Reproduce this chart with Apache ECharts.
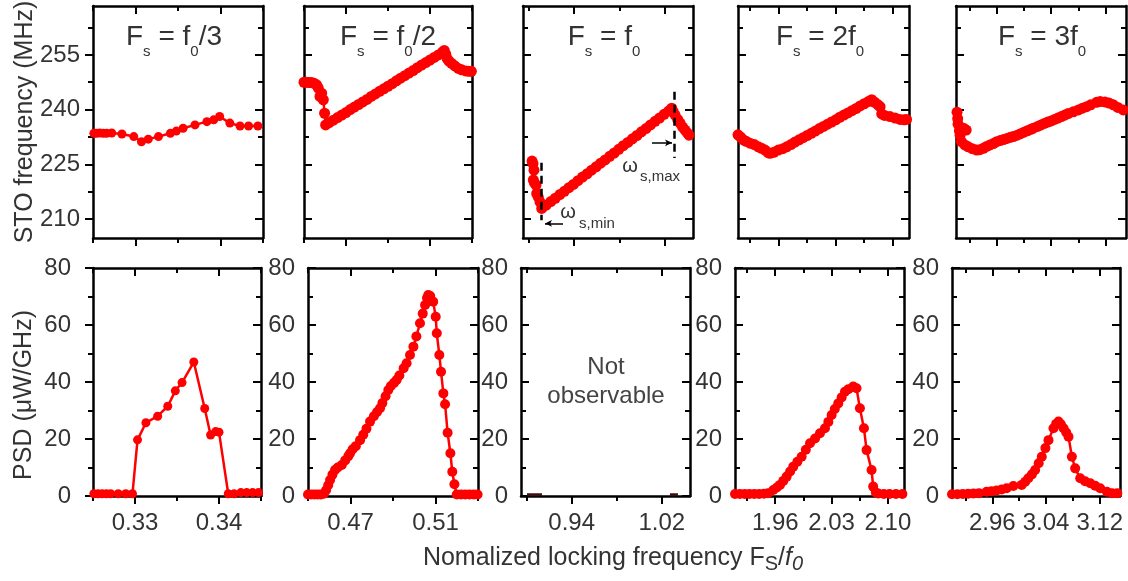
<!DOCTYPE html>
<html><head><meta charset="utf-8">
<script src="https://cdn.jsdelivr.net/npm/echarts@6.0.0/dist/echarts.min.js"></script>
<style>html,body{margin:0;padding:0;background:#fff;}#c{width:1128px;height:581px;}</style>
</head><body><div id="c"></div>
<script>
// ---------- DATA ----------
// Column x ranges (normalized locking frequency)
const colRanges = [[0.325,0.345],[0.45,0.53],[0.895,1.045],[1.91,2.12],[2.9,3.15]];
const xMajor = [[0.33,0.34],[0.47,0.51],[0.94,1.02],[1.96,2.03,2.10],[2.96,3.04,3.12]];
const xMinor = [[0.325,0.335,0.345],[0.45,0.49,0.53],[0.90,0.98],[1.925,1.995,2.065],[2.92,3.00,3.08]];
const freqRange = [204.8,268.4];
const freqMajor = [210,225,240,255];
const freqMinor = [217.5,232.5,247.5,262.5];
const psdRange = [0,80];
const psdMajor = [0,20,40,60,80];
const psdMinor = [10,30,50,70];
const titleSuffix = ['{a| = f}{s|0}{a|/3}','{a| = f}{s|0}{a|/2}','{a| = f}{s|0}','{a| = 2f}{s|0}','{a| = 3f}{s|0}'];

// STO frequency (MHz)
const p1TopX = [0.3251,0.3254,0.3258,0.3262,0.3266,0.3272,0.3284,0.3298,0.3307,0.3315,0.3327,0.3341,0.3348,0.3356,0.3370,0.3384,0.3392,0.3399,0.3411,0.3423,0.3433,0.3444];
const p1TopY = [233.5,233.5,233.6,233.5,233.5,233.6,233.3,232.6,231.2,231.9,232.6,233.5,234.1,234.9,235.8,236.7,237.2,238.1,236.3,235.5,235.5,235.5];

const p2TopX = [0.4500,0.4512,0.4524,0.4536,0.4548,0.4560,0.4568,0.4576,0.4584,0.4592,0.4598,0.4603,
  0.462,0.464,0.466,0.468,0.470,0.472,0.474,0.476,0.478,0.480,0.482,0.484,0.486,0.488,0.490,0.492,0.494,0.496,0.498,0.500,0.502,0.504,0.506,0.508,0.510,0.512,0.514,0.516,
  0.5168,0.5175,0.5182,0.5190,0.5203,0.5218,0.5235,0.5251,0.5270,0.5285,0.5297];
const p2TopY = [247.5,247.5,247.4,247.4,247.2,246.8,245.9,243.6,244.5,242.7,239.0,235.8,
  236.4,237.1,237.8,238.5,239.2,240.0,240.7,241.4,242.1,242.8,243.6,244.3,245.0,245.7,246.4,247.1,247.9,248.6,249.3,250.0,250.7,251.5,252.2,252.9,253.6,254.3,255.0,255.8,
  256.2,255.2,254.0,253.3,252.7,252.0,251.3,250.9,250.6,250.5,250.5];

const p3TopX = [0.9030,0.9038,0.9047,0.9041,0.9050,0.9065,0.9071,0.9085,0.9100,0.9115,
  0.9155,0.9195,0.9235,0.9275,0.9315,0.9355,0.9395,0.9435,0.9475,0.9515,0.9555,0.9595,0.9635,0.9675,0.9715,0.9755,0.9795,0.9835,0.9875,0.9915,0.9955,0.9995,1.0035,1.0075,1.0115,1.0155,1.0195,1.0235,
  1.0262,1.0275,1.0292,1.0315,1.0336,1.0358,1.0380,1.0400,1.0415];
const p3TopY = [225.9,225.2,223.4,220.7,220.0,219.3,217.0,216.0,214.7,212.9,
  213.8,214.8,215.7,216.7,217.6,218.6,219.5,220.5,221.5,222.4,223.4,224.3,225.3,226.2,227.2,228.1,229.1,230.1,231.0,232.0,232.9,233.9,234.8,235.8,236.8,237.7,238.7,239.6,
  240.4,239.5,238.5,237.3,236.3,235.2,234.4,233.6,233.0];

const p4TopX = [1.9100,1.9130,1.9165,1.9200,1.9247,1.9300,1.9349,1.9390,1.9432,1.9470,1.9493,1.9540,1.9595,1.9650,1.9698,
  1.975,1.980,1.985,1.990,1.995,2.000,2.005,2.010,2.015,2.020,2.025,2.030,2.035,2.040,2.045,2.050,2.055,2.060,2.065,2.070,
  2.0742,2.0780,2.0820,2.0845,2.0865,2.0900,2.0967,2.1030,2.1090,2.1140,2.1170];
const p4TopY = [233.1,232.5,231.7,231.3,230.8,230.4,229.8,229.4,228.9,228.2,228.0,228.3,228.9,229.3,229.8,
  230.4,231.1,231.7,232.3,232.9,233.5,234.1,234.8,235.4,236.0,236.6,237.2,237.9,238.5,239.1,239.7,240.3,241.0,241.6,242.2,
  242.7,242.0,241.3,240.8,238.8,238.4,238.1,237.7,237.3,237.2,237.3];

const p5TopX = [2.9015,2.9025,2.9030,2.9050,2.9110,2.9150,2.9060,2.9080,2.9130,2.9180,2.9240,2.9304,2.9350,2.9402,2.9450,2.9500,2.9550,2.9598,2.9650,2.9700,
  2.9750,2.9800,2.9843,2.9900,2.9950,3.0000,3.0050,3.0100,3.0137,3.0200,3.0250,3.0300,3.0350,3.0400,3.0450,3.0500,3.0550,3.0600,3.0650,3.0725,
  3.0800,3.0860,3.0920,3.0980,3.1068,3.1120,3.1190,3.1250,3.1314,3.1380,3.1460];
const p5TopY = [239.3,237.5,236.0,234.2,234.9,234.4,233.0,231.2,230.3,229.8,229.3,228.9,229.0,229.4,229.9,230.3,230.7,231.2,231.5,231.8,
  232.1,232.4,232.6,233.0,233.4,233.8,234.2,234.6,234.9,235.4,235.8,236.2,236.6,236.9,237.3,237.7,238.1,238.5,238.9,239.4,
  239.9,240.4,240.8,241.3,242.0,242.2,242.1,241.8,241.3,240.6,239.9];

// PSD (uW/GHz)
const p1BotX = [0.3251,0.3256,0.3261,0.3266,0.3271,0.3280,0.3289,0.3297,0.3303,0.3313,0.3327,0.3339,0.3348,0.3356,0.3370,0.3383,0.3390,0.3396,0.3400,0.3411,0.3418,0.3426,0.3433,0.3440,0.3447];
const p1BotY = [0.8,0.8,0.8,0.8,0.8,0.8,0.8,0.8,19.7,25.7,28.0,31.5,36.9,39.8,47.0,30.7,21.4,22.6,22.4,0.8,0.8,1.2,1.2,1.2,1.2];

const p2BotX = [0.4500,0.4515,0.4530,0.4545,0.4560,0.4575,0.4585,0.4595,0.4604,0.4615,0.4627,0.4640,0.4659,0.4675,0.4690,0.4698,0.4710,0.4725,0.4745,0.4760,
  0.4775,0.4792,0.4810,0.4825,0.4839,0.4850,0.4865,0.4878,0.4890,0.4905,0.4917,0.4930,0.4950,0.4964,0.4980,0.4996,0.5010,0.5027,0.5040,0.5051,
  0.5060,0.5066,0.5075,0.5089,0.5101,0.5106,0.5118,0.5126,0.5137,0.5145,0.5157,0.5170,0.5179,0.5189,0.5200,0.5220,0.5240,0.5260,0.5280,0.5298];
const p2BotY = [0.5,0.5,0.5,0.5,0.5,0.8,2.0,3.8,5.6,7.5,9.1,10.0,10.9,12.5,14.0,15.0,16.4,17.5,19.6,21.5,
  23.6,26.1,28.0,29.5,30.8,32.6,35.0,37.2,38.6,39.7,40.7,42.3,44.8,46.6,49.5,52.4,56.0,60.6,64.0,67.0,
  69.5,70.5,70.2,68.2,62.9,57.1,49.5,43.6,36.0,32.2,22.2,15.0,8.5,4.1,0.5,0.5,0.5,0.5,0.5,0.5];

const p3BotLeftX = [0.9003,0.9060,0.9136];
const p3BotLeftY = [0.4,0.4,0.4];
const p3BotRightX = [1.0272,1.0343];
const p3BotRightY = [0.4,0.4];

const p4BotX = [1.910,1.916,1.922,1.928,1.934,1.940,1.946,1.951,1.9576,1.9620,1.9659,1.9700,1.9742,1.9785,1.9824,1.9875,1.9928,1.9980,2.0032,2.0095,
  2.0156,2.0218,2.0260,2.0301,2.0340,2.0383,2.0425,2.0466,2.0510,2.0569,2.0610,2.0652,2.0702,2.0735,2.0797,2.0817,2.0850,2.0880,2.0950,2.1020,2.1100,2.1180];
const p4BotY = [0.7,0.7,0.7,0.7,0.7,0.7,0.8,1.0,2.1,3.0,3.9,5.3,6.8,8.6,10.3,12.0,13.8,16.2,18.5,20.2,
  22.0,23.8,26.0,28.4,30.5,32.5,34.6,36.6,37.5,38.4,37.8,30.8,23.8,16.1,9.1,3.3,1.2,0.9,0.7,0.7,0.7,0.7];

const p5BotX = [2.900,2.908,2.916,2.924,2.932,2.940,2.9516,2.9590,2.9665,2.9740,2.9814,2.9913,3.0037,3.0090,3.0136,3.0190,3.0237,3.0290,3.0336,3.0390,
  3.0436,3.0510,3.0550,3.0585,3.0620,3.0660,3.0700,3.0734,3.0784,3.0833,3.0908,3.0980,3.1057,3.1130,3.1205,3.1305,3.1380,3.1460];
const p5BotY = [0.6,0.6,0.7,0.8,0.9,1.0,1.5,1.7,1.9,2.3,2.7,3.5,3.9,5.0,6.2,7.6,9.1,11.5,13.8,16.8,
  19.6,23.8,25.3,26.1,25.2,23.8,22.3,20.8,13.8,9.7,6.2,5.2,4.5,3.6,2.7,1.5,1.0,1.0];

// Annotation (panel Fs = f0): dashed markers and arrows, in data coordinates
const dashMarks = [[0.9115,225.4,209.7],[1.0282,244.9,226.7]];
const arrowMarks = [[0.9303,0.9144,208.8],[1.0088,1.0265,230.9]];

// ---------- BUILD ----------
const topGrids = [[93,170],[304,168],[523,170],[738,171],[956,170]];
const botGrids = [[93,168],[308,170],[521,169],[735,169],[952,168]];
const topSizes = [9,11,11,11,11];
const botSizes = [9,10,0,10,10];
const FONT = '"Liberation Sans", Arial, sans-serif';
const TXT = '#333';
const grids=[], xAxes=[], yAxes=[], series=[];
const AX = {color:'#000', width:2.5};
const TK = {color:'#000', width:2};

function addAxes(kind, g, range, majors, minors, opts){
  const arr = kind==='x' ? xAxes : yAxes;
  const first = arr.length;
  const sides = kind==='x' ? ['bottom','top'] : ['left','right'];
  sides.forEach((pos, si)=>{
    const inside = si===1 ? true : opts.mainInside;
    [majors, minors].forEach((vals, mi)=>{
      arr.push({
        type:'value', gridIndex:g, min:range[0], max:range[1], position:pos, silent:true,
        splitLine:{show:false},
        axisLine:{show: mi===0, onZero:false, lineStyle:AX},
        axisTick:{show:true, inside:inside, length: mi===0?8:5, lineStyle:TK, customValues: vals},
        axisLabel:{show: si===0 && mi===0 && opts.labels, customValues: vals, margin: opts.margin||13,
          formatter: opts.fmt, fontSize:24, color:TXT, fontFamily:FONT}
      });
    });
  });
  return first;
}
const zip = (xs, ys) => xs.map((x,i)=>[x, ys[i]]);
function lineSeries(xi, yi, xs, ys, size, extra){
  return Object.assign({
    type:'line', xAxisIndex:xi, yAxisIndex:yi, data:zip(xs,ys),
    symbol:'circle', symbolSize:size, showSymbol:true, showAllSymbol:true, animation:false, silent:true,
    itemStyle:{color:'#ff0000'}, lineStyle:{color:'#ff0000', width:2.5}, z:3
  }, extra||{});
}

const topData = [[p1TopX,p1TopY],[p2TopX,p2TopY],[p3TopX,p3TopY],[p4TopX,p4TopY],[p5TopX,p5TopY]];
const botData = [[p1BotX,p1BotY],[p2BotX,p2BotY],null,[p4BotX,p4BotY],[p5BotX,p5BotY]];
const fmt2 = v => v.toFixed(2);

for (let c=0;c<5;c++){
  // top row
  const gT = grids.length;
  grids.push({left:topGrids[c][0], top:6, width:topGrids[c][1], height:232, containLabel:false});
  const xiT = addAxes('x', gT, colRanges[c], xMajor[c], xMinor[c], {mainInside:false, labels:false, fmt:fmt2});
  const yiT = addAxes('y', gT, freqRange, freqMajor, freqMinor, {mainInside: c!==0, labels: c===0, margin:13});
  const extra = {};
  if (c===2){
    extra.markLine = {
      silent:true, animation:false, symbol:['none','none'], label:{show:false},
      data: dashMarks.map(d=>[
        {coord:[d[0],d[1]], lineStyle:{color:'#000', width:2.5, type:[8,5]}},
        {coord:[d[0],d[2]]}
      ]).concat(arrowMarks.map(a=>[
        {coord:[a[0],a[2]], symbol:'none', lineStyle:{color:'#000', width:1.5, type:'solid'}},
        {coord:[a[1],a[2]], symbol:'arrow', symbolSize:[5,7]}
      ]))
    };
  }
  series.push(lineSeries(xiT, yiT, topData[c][0], topData[c][1], topSizes[c], extra));

  // bottom row
  const gB = grids.length;
  grids.push({left:botGrids[c][0], top:268, width:botGrids[c][1], height:228, containLabel:false});
  const xiB = addAxes('x', gB, colRanges[c], xMajor[c], xMinor[c], {mainInside:false, labels:true, fmt:fmt2, margin:15});
  const yiB = addAxes('y', gB, psdRange, psdMajor, psdMinor, {mainInside: c!==0, labels:true, margin: c===0?22:13});
  if (botData[c]){
    series.push(lineSeries(xiB, yiB, botData[c][0], botData[c][1], botSizes[c]));
  } else {
    const dark = {symbol:'none', lineStyle:{color:'#3a1010', width:3}, itemStyle:{color:'#3a1010'}};
    series.push(lineSeries(xiB, yiB, p3BotLeftX, p3BotLeftY, 0, dark));
    series.push(lineSeries(xiB, yiB, p3BotRightX, p3BotRightY, 0, dark));
  }
}

const titleCenters = [174, 388, 604, 820, 1042];
const graphics = [];
titleCenters.forEach((cx,i)=>{
  graphics.push({type:'text', x:cx, y:37, silent:true, style:{
    text:'{a|F}{s|s}'+titleSuffix[i], align:'center', verticalAlign:'middle',
    rich:{
      a:{fontSize:28, fontFamily:FONT, fill:TXT, lineHeight:44},
      s:{fontSize:15, fontFamily:FONT, fill:TXT, lineHeight:15, verticalAlign:'bottom'}
    }}});
});
// axis titles
graphics.push({type:'text', x:25, y:122, rotation:Math.PI/2, silent:true, style:{
  text:'STO frequency (MHz)', align:'center', verticalAlign:'middle', fontSize:25, fontFamily:FONT, fill:TXT}});
graphics.push({type:'text', x:24, y:395, rotation:Math.PI/2, silent:true, style:{
  text:'PSD (\u03bcW/GHz)', align:'center', verticalAlign:'middle', fontSize:25, fontFamily:FONT, fill:TXT}});
graphics.push({type:'text', x:613, y:558, silent:true, style:{
  text:'{a|Nomalized locking frequency F}{s|S}{a|/}{i|f}{si|0}', align:'center', verticalAlign:'middle',
  rich:{
    a:{fontSize:25, fontFamily:FONT, fill:TXT, lineHeight:32},
    i:{fontSize:25, fontFamily:FONT, fill:TXT, lineHeight:32, fontStyle:'italic'},
    s:{fontSize:20, fontFamily:FONT, fill:TXT, lineHeight:20, verticalAlign:'bottom'},
    si:{fontSize:20, fontFamily:FONT, fill:TXT, lineHeight:20, verticalAlign:'bottom', fontStyle:'italic'}
  }}});
// Not observable
graphics.push({type:'text', x:606, y:382, silent:true, style:{
  text:'Not\nobservable', align:'center', verticalAlign:'middle', fontSize:24, lineHeight:29, fontFamily:FONT, fill:'#444'}});
// omega labels
graphics.push({type:'text', x:568, y:212, silent:true, style:{text:'\u03c9', align:'center', verticalAlign:'middle', fontSize:20, fontFamily:FONT, fill:TXT}});
graphics.push({type:'text', x:579, y:224, silent:true, style:{text:'s,min', align:'left', verticalAlign:'middle', fontSize:15, fontFamily:FONT, fill:TXT}});
graphics.push({type:'text', x:630, y:166, silent:true, style:{text:'\u03c9', align:'center', verticalAlign:'middle', fontSize:20, fontFamily:FONT, fill:TXT}});
graphics.push({type:'text', x:640, y:177, silent:true, style:{text:'s,max', align:'left', verticalAlign:'middle', fontSize:15, fontFamily:FONT, fill:TXT}});

const chart = echarts.init(document.getElementById('c'), null, {renderer:'canvas'});
chart.setOption({
  backgroundColor:'#fff',
  animation:false,
  grid:grids, xAxis:xAxes, yAxis:yAxes, series:series,
  graphic:{elements:graphics}
});
</script></body></html>
